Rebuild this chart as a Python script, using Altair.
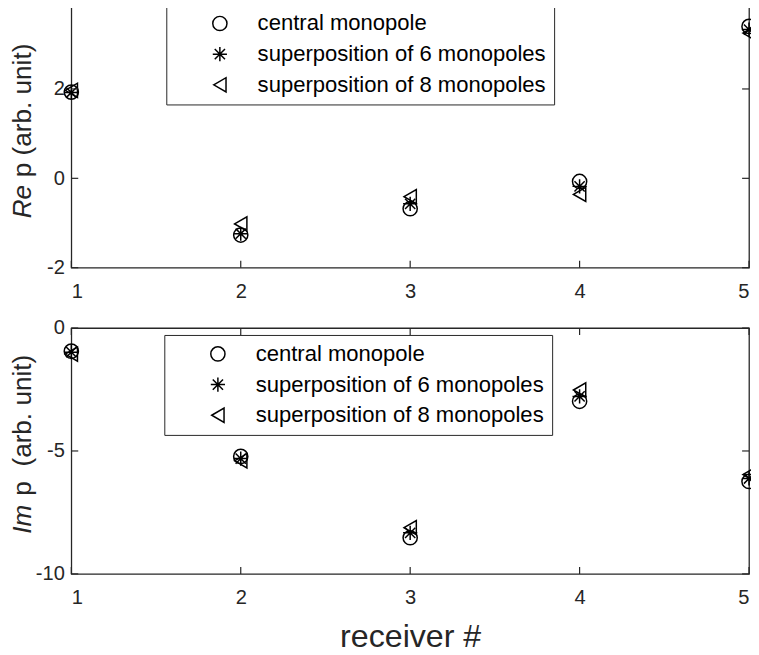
import altair as alt
import pandas as pd

# ---------------- data ----------------
receivers = [1, 2, 3, 4, 5]
series = ["central monopole", "superposition of 6 monopoles", "superposition of 8 monopoles"]

re_central = [1.93, -1.27, -0.68, -0.07, 3.40]
re_six = [1.92, -1.24, -0.57, -0.18, 3.33]
re_eight = [1.97, -1.02, -0.41, -0.36, 3.25]

im_central = [-0.94, -5.22, -8.53, -2.98, -6.24]
im_six = [-0.98, -5.31, -8.33, -2.78, -6.12]
im_eight = [-1.06, -5.40, -8.12, -2.52, -5.96]

x_ticks = [1, 2, 3, 4, 5]
re_ticks = [-2, 0, 2, 4]
re_labels = [-2, 0, 2]
im_ticks = [-10, -5, 0]

FONT = "Liberation Sans"
AX = "#262626"
W = 685
ASTERISK = "M-1,0L1,0M0,-1L0,1M-0.72,-0.72L0.72,0.72M-0.72,0.72L0.72,-0.72"
shapes = ["circle", ASTERISK, "triangle-left"]


def long_df(a, b, c):
    rows = []
    for s, vals in zip(series, [a, b, c]):
        for r, v in zip(receivers, vals):
            rows.append({"receiver": r, "value": v, "series": s})
    return pd.DataFrame(rows)


def panel(df, ydomain, yticks, ylabels, height, leg_xy, title_parts, xtitle):
    xs = alt.Scale(domain=[1, 5], nice=False, zero=False, padding=0)
    ys = alt.Scale(domain=ydomain, nice=False, zero=False, padding=0)
    xaxis = alt.Axis(values=x_ticks, labelExpr="datum.value + ''", domain=False, ticks=False,
                     tickSize=0, grid=False, labelPadding=14, labelFontSize=20.3, labelFont=FONT,
                     labelColor=AX, title=xtitle if xtitle else None, titleFont=FONT,
                     titleFontSize=32.5, titleFontWeight="normal", titleColor=AX, titlePadding=13)
    yaxis = alt.Axis(values=ylabels, labelExpr="datum.value + ''", domain=False, ticks=False,
                     tickSize=0, grid=False, labelPadding=7, labelFontSize=20.3, labelFont=FONT,
                     labelColor=AX, title=None)

    pts = alt.Chart(df).mark_point(filled=False, size=206, strokeWidth=1.5, color="black",
                                   opacity=1).encode(
        x=alt.X("receiver:Q", scale=xs, axis=xaxis),
        y=alt.Y("value:Q", scale=ys, axis=yaxis),
        shape=alt.Shape("series:N", scale=alt.Scale(domain=series, range=shapes),
                        legend=alt.Legend(orient="none", legendX=leg_xy[0], legendY=leg_xy[1],
                                          title=None)),
    )

    xt = pd.DataFrame({"t": x_ticks})
    yt = pd.DataFrame({"t": yticks})
    tick_style = dict(color=AX, strokeWidth=1.2)
    bx = alt.Chart(xt).mark_rule(**tick_style).encode(
        x=alt.X("t:Q", scale=xs, axis=xaxis), y=alt.value(height), y2=alt.value(height - 7))
    tx = alt.Chart(xt).mark_rule(**tick_style).encode(
        x=alt.X("t:Q", scale=xs, axis=xaxis), y=alt.value(0), y2=alt.value(7))
    ly = alt.Chart(yt).mark_rule(**tick_style).encode(
        y=alt.Y("t:Q", scale=ys, axis=yaxis), x=alt.value(0), x2=alt.value(7))
    ry = alt.Chart(yt).mark_rule(**tick_style).encode(
        y=alt.Y("t:Q", scale=ys, axis=yaxis), x=alt.value(W), x2=alt.value(W - 7))

    one = pd.DataFrame({"a": [0]})
    texts = []
    for txt, ypos, style in title_parts:
        texts.append(alt.Chart(one).mark_text(
            text=txt, angle=270, align="left", baseline="middle", font=FONT, fontSize=26.4,
            fontStyle=style, color=AX).encode(x=alt.value(-49), y=alt.value(ypos)))

    return alt.layer(pts, bx, tx, ly, ry, *texts).properties(width=W, height=height)


top = panel(long_df(re_central, re_six, re_eight), [-2, 4], re_ticks, re_labels, 271,
            (96, 5), [("Re", 221, "italic"), ("p (arb. unit)", 179.5, "normal")], None)
bottom = panel(long_df(im_central, im_six, im_eight), [-10, 0], im_ticks, im_ticks, 248.5,
               (94, 7), [("Im", 208, "italic"), ("p", 169.5, "normal"),
                         ("(arb. unit)", 140, "normal")], "receiver #")

chart = alt.vconcat(top, bottom, spacing=15).resolve_scale(
    shape="independent").resolve_legend(shape="independent").properties(
    padding={"top": -14, "left": 1, "right": -9, "bottom": 0}
).configure_view(stroke=AX, strokeWidth=1.3).configure_legend(
    strokeColor=AX, strokeWidth=1, fillColor="white", padding=8, labelLimit=0,
    labelFontSize=22.3, labelFont=FONT, labelColor="#000000", labelOffset=27,
    symbolOffset=35, symbolSize=206, symbolStrokeColor="black", symbolStrokeWidth=1.5,
    symbolFillColor="transparent", rowPadding=8,
)

chart.save("out.html", embed_options={"renderer": "svg", "actions": False})
